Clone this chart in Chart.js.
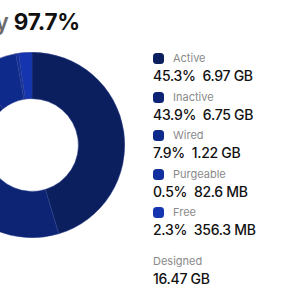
<!DOCTYPE html>
<html>
<head>
<meta charset="utf-8">
<script src="https://cdn.jsdelivr.net/npm/chart.js@4"></script>
<style>
  body { margin: 0; width: 300px; height: 300px; overflow: hidden; background: #fff; font-family: Inter, "Noto Sans", sans-serif; position: relative; }
  #title { position: absolute; right: 220px; top: 8px; white-space: nowrap; font-size: 22.5px; font-weight: 700; color: #111; letter-spacing: -0.2px; }
  #title .muted { color: #6b6b6b; font-weight: 600; }
  #chartBox { position: absolute; left: -61px; top: 52px; width: 186px; height: 186px; }
  #legend { position: absolute; left: 153px; top: 50px; }
  .item { height: 38.5px; }
  .label { font-size: 11px; color: #8a8a8a; height: 17px; line-height: 17px; display: flex; align-items: center; }
  .sw { width: 11px; height: 11px; border-radius: 3.5px; margin-right: 9px; }
  .value { font-size: 14px; font-weight: 500; color: #111; line-height: 18px; white-space: pre; letter-spacing: -0.3px; }
  .designed { margin-top: 10px; }
</style>
</head>
<body>
<div id="title"><span class="muted">Memory</span> 97.7%</div>
<div id="chartBox"><canvas id="memChart"></canvas></div>
<div id="legend"></div>
<script>
let labels = ["Active", "Inactive", "Wired", "Purgeable", "Free"];
let percents = [45.3, 43.9, 7.9, 0.5, 2.3];
let sizes = ["6.97 GB", "6.75 GB", "1.22 GB", "82.6 MB", "356.3 MB"];
let colors = ["#0b1f5f", "#0c2473", "#0e2a8a", "#11309d", "#1535b0"];
let designed = "16.47 GB";

// legend on the right
let legend = document.getElementById("legend");
for (let i = 0; i < labels.length; i++) {
  let item = document.createElement("div");
  item.className = "item";
  item.innerHTML = `<div class="label"><span class="sw" style="background:${colors[i]}"></span>${labels[i]}</div>
    <div class="value">${percents[i]}%  ${sizes[i]}</div>`;
  legend.appendChild(item);
}
let d = document.createElement("div");
d.className = "item designed";
d.innerHTML = `<div class="label">Designed</div><div class="value">${designed}</div>`;
legend.appendChild(d);

new Chart(document.getElementById("memChart"), {
  type: "doughnut",
  data: {
    labels: labels,
    datasets: [{
      data: percents,
      backgroundColor: colors,
      borderWidth: 0.5,
      borderColor: "#2a3f8c",
    }],
  },
  options: {
    responsive: true,
    maintainAspectRatio: false,
    animation: false,
    cutout: "50%",
    layout: { padding: 0 },
    plugins: { legend: { display: false }, tooltip: { enabled: false } },
  },
});
</script>
</body>
</html>
